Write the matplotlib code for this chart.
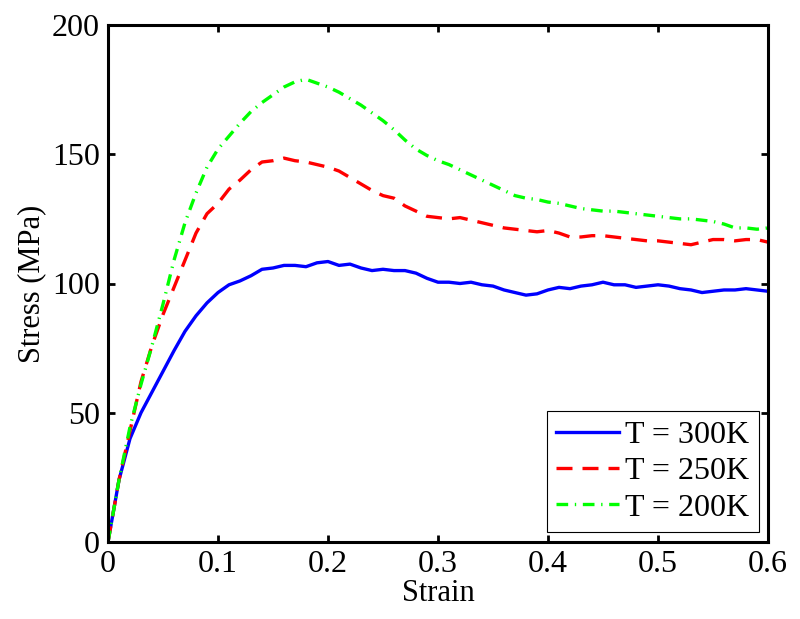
import numpy as np
import matplotlib
matplotlib.use('Agg')
from matplotlib import pyplot as plt

plt.rcParams['font.family'] = ['Liberation Serif', 'DejaVu Serif']
plt.rcParams['mathtext.fontset'] = 'stix'

# strain values, 0 to 0.6 in steps of 0.01
strain = np.round(np.arange(0, 0.601, 0.01), 2)

stress_300 = [0, 24, 40, 50, 58, 66, 74, 81.5, 87.5, 92.5,
              96.5, 99.5, 101, 103, 105.5, 106, 107, 107, 106.5, 108,
              108.5, 107, 107.5, 106, 105, 105.5, 105, 105, 104, 102,
              100.5, 100.5, 100, 100.5, 99.5, 99, 97.5, 96.5, 95.5, 96,
              97.5, 98.5, 98, 99, 99.5, 100.5, 99.5, 99.5, 98.5, 99,
              99.5, 99, 98, 97.5, 96.5, 97, 97.5, 97.5, 98, 97.5, 97]

stress_250 = [0, 24, 43, 62, 76, 88, 98.5, 109, 119.5, 127,
              131, 136.5, 140, 144, 147, 147.5, 148.5, 147.5, 147, 146,
              145, 143.5, 141, 138.5, 136, 134, 133, 130, 128, 126,
              125.5, 125, 125.5, 124.5, 123.5, 122.5, 121.5, 121, 120.5, 120,
              120.5, 119.5, 118, 118, 118.5, 118.5, 118, 117.5, 117, 116.5,
              116.5, 116, 115.5, 115, 116, 117, 117, 116.5, 117, 117, 116]

stress_200 = [0, 24, 44.5, 61, 76, 92, 109, 123.5, 135, 145,
              152, 157, 162, 166.5, 170, 173, 176, 178, 179, 177.5,
              176, 174, 171.5, 169, 166, 163, 159.5, 155.5, 152, 149.5,
              147.5, 146, 144, 142, 140, 138, 136, 134, 133, 132.5,
              131.5, 131, 130, 129, 128.5, 128, 128, 127.5, 127, 126.5,
              126, 125.5, 125, 125, 124.5, 124, 123, 121.5, 121.5, 121, 121.5]

labels = ['T = 300K', 'T = 250K', 'T = 200K']

fig = plt.figure(figsize=(8, 6.19), dpi=100)
ax = fig.add_axes([108 / 800, 1 - 542 / 619, 660 / 800, 517 / 619])

lw = 2.4
ax.plot(strain, stress_300, color=(0, 0, 1), lw=lw, label=labels[0])
ax.plot(strain, stress_250, color=(1, 0, 0), lw=lw, dashes=(4.8, 3.0), label=labels[1])
ax.plot(strain, stress_200, color=(0, 1, 0), lw=lw, dashes=(3.5, 2.0, 0.4, 2.0), label=labels[2])

ax.set_xlim(0, 0.6)
ax.set_ylim(0, 200)
ax.set_xticks([0, 0.1, 0.2, 0.3, 0.4, 0.5, 0.6])
ax.set_xticklabels(['0', '0.1', '0.2', '0.3', '0.4', '0.5', '0.6'])
ax.set_yticks([0, 50, 100, 150, 200])

ax.tick_params(direction='in', length=5, width=2, labelsize=23, top=True, right=True, pad=6)
for s in ax.spines.values():
    s.set_linewidth(2.2)

ax.set_xlabel('Strain', fontsize=22, labelpad=0)
ax.set_ylabel('Stress (MPa)', fontsize=22, labelpad=4)

leg = ax.legend(loc='lower right', bbox_to_anchor=(0.986, 0.019), borderaxespad=0,
                fontsize=23, fancybox=False, framealpha=1, edgecolor='black',
                handlelength=1.95, handletextpad=0.2, labelspacing=0.22, borderpad=0.3)
leg.get_frame().set_linewidth(0.8)

fig.savefig('out.png', dpi=100)
